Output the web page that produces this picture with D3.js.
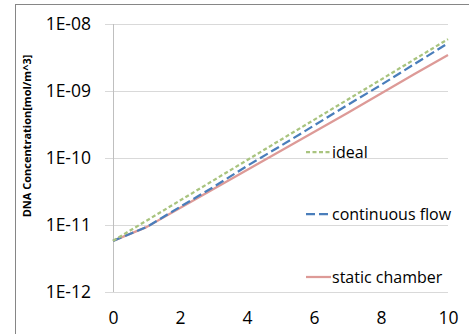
<!DOCTYPE html>
<html>
<head>
<meta charset="utf-8">
<script src="https://cdnjs.cloudflare.com/ajax/libs/d3/7.8.5/d3.min.js"></script>
<style>
  body { margin: 0; background: #fff; }
  text { font-family: "Open Sans", sans-serif; fill: #000; }
</style>
</head>
<body>
<div id="chart"></div>
<script>
// values (mol/m^3 per cycle)
var cycles = [0, 1, 2, 3, 4, 5, 6, 7, 8, 9, 10];
var ideal = [5.8e-12, 1.16e-11, 2.32e-11, 4.64e-11, 9.28e-11, 1.86e-10, 3.71e-10, 7.42e-10, 1.48e-9, 2.97e-9, 5.94e-9];
var continuousFlow = [5.8e-12, 9.3e-12, 1.86e-11, 3.69e-11, 7.6e-11, 1.51e-10, 3.05e-10, 6.18e-10, 1.23e-9, 2.53e-9, 5.16e-9];
var staticChamber = [5.8e-12, 9.3e-12, 1.79e-11, 3.44e-11, 6.62e-11, 1.27e-10, 2.44e-10, 4.7e-10, 9.18e-10, 1.79e-9, 3.44e-9];
var yTicks = [1e-12, 1e-11, 1e-10, 1e-9, 1e-8];
var yTickLabels = ["1E-12", "1E-11", "1E-10", "1E-09", "1E-08"];
var xTicks = [0, 2, 4, 6, 8, 10];
var seriesNames = ["ideal", "continuous flow", "static chamber"];

function draw() {
	var width = 469, height = 334;
	var left = 113, right = 448, top = 24, bottom = 292;

	var svg = d3.select("#chart").append("svg")
		.attr("width", width)
		.attr("height", height);

	// chart area border (runs off the right and bottom edge)
	svg.append("rect")
		.attr("x", 15.5).attr("y", 4.5)
		.attr("width", 500).attr("height", 400)
		.style("fill", "none")
		.style("stroke", "#868686")
		.style("stroke-width", "1px");

	var x = d3.scaleLinear().domain([0, 10]).range([left, right]);
	var y = d3.scaleLog().domain([1e-12, 1e-8]).range([bottom, top]);

	// horizontal gridlines + y labels
	var yAxis = d3.axisLeft(y)
		.tickValues(yTicks)
		.tickSize(-(right - left + 8))
		.tickPadding(14)
		.tickFormat(function(d, i) { return yTickLabels[i]; });

	var gY = svg.append("g")
		.attr("transform", "translate(" + (left - 8) + ",0)")
		.call(yAxis);
	gY.select(".domain").remove();
	gY.selectAll("line").style("stroke", "#d9d9d9").style("stroke-width", "1px");
	gY.selectAll("text")
		.attr("x", -14)
		.style("font-size", "17.5px")
		.style("font-family", "'Open Sans', sans-serif");

	// vertical axis line
	svg.append("line")
		.attr("x1", left + 0.5).attr("x2", left + 0.5)
		.attr("y1", top).attr("y2", bottom)
		.style("stroke", "#bfbfbf")
		.style("stroke-width", "1px");

	// x labels
	var xAxis = d3.axisBottom(x)
		.tickValues(xTicks)
		.tickSize(0)
		.tickPadding(20)
		.tickFormat(d3.format("d"));
	var gX = svg.append("g")
		.attr("transform", "translate(0," + bottom + ")")
		.call(xAxis);
	gX.select(".domain").remove();
	gX.selectAll("text")
		.style("font-size", "17.5px")
		.style("font-family", "'Open Sans', sans-serif");

	// y axis title
	svg.append("text")
		.attr("transform", "translate(31,136) rotate(-90)")
		.attr("text-anchor", "middle")
		.style("font-size", "11px")
		.style("font-weight", "bold")
		.text("DNA Concentration[mol/m^3]");

	var styles = [
		{ data: ideal, color: "#a9c47f", dash: "4,2.5" },
		{ data: continuousFlow, color: "#4a7ebb", dash: "9,4" },
		{ data: staticChamber, color: "#dd9a97", dash: null }
	];

	var line = d3.line()
		.x(function(d, i) { return x(cycles[i]); })
		.y(function(d) { return y(d); });

	// draw static chamber first so dashed ones sit on top
	[2, 1, 0].forEach(function(k) {
		var s = styles[k];
		svg.append("path")
			.datum(s.data)
			.attr("d", line)
			.style("fill", "none")
			.style("stroke", s.color)
			.style("stroke-width", "2.25px")
			.style("stroke-dasharray", s.dash)
			.style("stroke-linejoin", "round");
	});

	// legend
	var legendY = [152, 214, 277];
	seriesNames.forEach(function(name, k) {
		var s = styles[k];
		svg.append("line")
			.attr("x1", 306).attr("x2", 331)
			.attr("y1", legendY[k]).attr("y2", legendY[k])
			.style("stroke", s.color)
			.style("stroke-width", "2.25px")
			.style("stroke-dasharray", s.dash);
		svg.append("text")
			.attr("x", 332)
			.attr("y", legendY[k])
			.attr("dy", "0.35em")
			.style("font-size", "16px")
			.text(name);
	});
}

draw();
</script>
</body>
</html>
